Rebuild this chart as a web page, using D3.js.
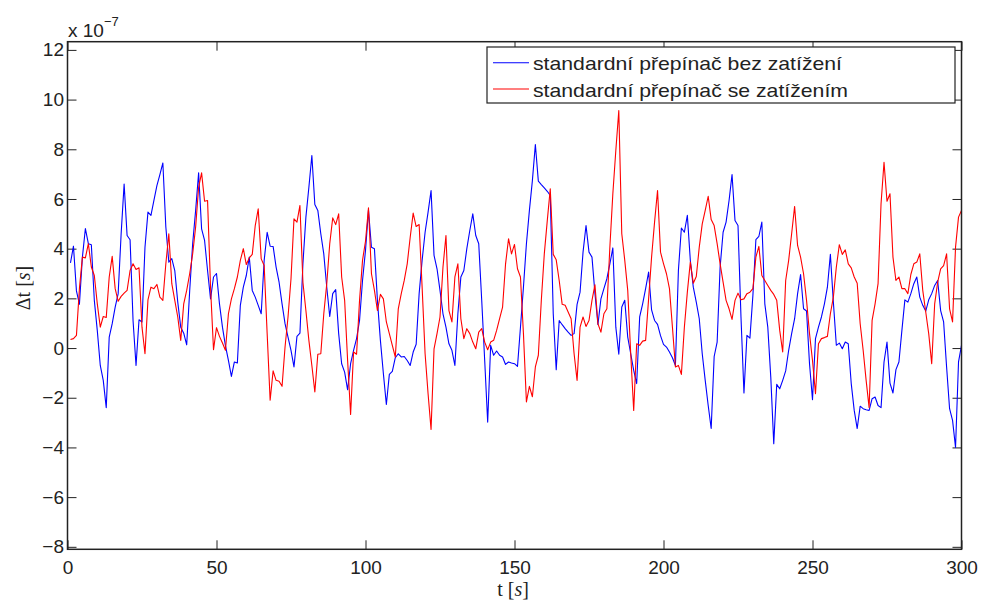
<!DOCTYPE html>
<html>
<head>
<meta charset="utf-8">
<script src="https://cdn.jsdelivr.net/npm/d3@7"></script>
<style>
  body { margin: 0; background: #fff; }
  svg { display: block; font-family: "Liberation Sans", Arial, sans-serif; }
  .axis text { font-size: 19px; fill: #222; }
  .axis line { stroke: #222; }
</style>
</head>
<body>
<div class="content"></div>
<script>
// Data (values in units of 1e-7 s)
const seriesNames = [
  "standardní přepínač bez zatížení",
  "standardní přepínač se zatížením",
];
const time = d3.range(1, 301);

const blueValues = [
  3.43, 4.1, 2.3, 1.76, 3.66, 4.81, 4.2, 4.16, 1.92, 0.7,
  -0.7, -1.3, -2.4, 0.44, 0.98, 1.65, 2.19, 4.6, 6.6, 4.53,
  4.36, 1.1, -0.7, 1.14, 1.05, 4.06, 5.47, 5.34, 5.94, 6.54,
  6.98, 7.45, 4.87, 3.46, 3.6, 3.12, 1.85, 0.84, 0.6, 0.13,
  2.3, 4.2, 5.54, 7.05, 4.8, 4.33, 3.12, 1.98, 2.86, 3.0,
  1.78, 0.84, 0.1, -0.5, -1.14, -0.56, -0.6, 1.72, 2.45, 2.92,
  3.66, 2.32, 2.05, 1.72, 1.38, 3.53, 4.66, 4.1, 4.09, 3.26,
  2.65, 1.78, 0.98, 0.44, -0.09, -0.76, 0.47, 0.6, 3.39, 5.27,
  6.47, 7.75, 5.78, 5.54, 4.6, 3.79, 2.45, 1.27, 2.19, 2.35,
  0.58, -0.63, -0.97, -1.68, -0.63, -0.09, 0.38, 1.11, 2.72, 3.93,
  5.55, 4.06, 4.0, 1.92, 0.31, -1.03, -2.27, -1.06, -0.94, -0.39,
  -0.23, -0.36, -0.34, -0.5, -0.7, -0.16, 0.15, 2.19, 3.53, 4.66,
  5.47, 6.34, 3.73, 3.19, 2.32, 1.38, 0.84, 0.17, -0.09, -0.7,
  1.38, 2.86, 3.12, 4.0, 4.73, 5.4, 4.53, 4.2, 1.92, -0.5,
  -2.98, 0.11, -0.29, -0.12, -0.29, -0.36, -0.66, -0.56, -0.6, -0.63,
  -0.74, 0.84, 2.45, 4.2, 5.54, 6.74, 8.19, 6.72, 6.58, 6.45,
  6.31, 6.14, 1.38, -0.87, 1.11, 0.94, 0.78, 0.64, 0.51, 0.58,
  1.76, 2.25, 3.86, 4.93, 3.86, 3.66, 2.19, 0.95, 1.98, 2.39,
  2.79, 3.39, 4.03, 0.84, -0.25, 1.65, 1.92, 0.44, -0.23, -0.9,
  -1.43, 1.25, 1.78, 2.39, 3.06, 1.54, 1.11, 0.95, 0.5, 0.15,
  0.04, -0.16, -0.39, -0.7, 3.12, 4.83, 4.66, 5.34, 3.53, 2.45,
  1.85, 1.18, -0.23, -1.3, -2.31, -3.24, -0.34, 0.24, 3.26, 4.66,
  5.07, 5.94, 6.98, 5.13, 4.93, 1.25, -1.81, 0.51, 0.4, 2.12,
  4.36, 4.49, 5.07, 1.78, 0.84, -1.17, -3.85, -1.46, -1.64, -1.3,
  -0.92, -0.09, 0.58, 1.18, 2.19, 2.96, 1.58, 1.49, -0.63, -2.08,
  0.38, 0.84, 1.25, 1.78, 2.45, 3.77, 1.85, 0.11, 0.2, -0.03,
  0.24, 0.17, -1.43, -2.51, -3.24, -2.34, -2.44, -2.48, -2.51, -2.04,
  -1.97, -2.31, -2.4, -0.56, 0.24, -1.41, -1.81, -0.87, -0.56, 0.71,
  1.94, 1.85, 2.19, 2.59, 2.86, 2.05, 1.72, 1.49, 1.94, 2.19,
  2.52, 2.72, 1.51, 1.05, -0.76, -2.44, -2.91, -4.0, -0.56, 0.11,
];

const redValues = [
  0.34, 0.38, 0.51, 2.4, 3.66, 3.63, 4.2, 3.26, 2.92, 1.78,
  0.84, 1.27, 1.23, 2.86, 3.69, 2.39, 1.88, 2.08, 2.21, 2.32,
  3.12, 3.39, 3.16, 3.23, 0.84, -0.23, 1.94, 2.45, 2.39, 2.56,
  2.05, 1.92, 3.39, 4.6, 2.59, 1.92, 1.25, 0.31, 1.78, 2.32,
  2.99, 3.79, 4.87, 6.47, 7.05, 5.91, 5.94, 2.45, -0.07, 0.82,
  0.47, 0.2, -0.09, 1.38, 1.98, 2.39, 2.86, 3.53, 4.0, 3.36,
  3.63, 3.77, 4.93, 5.6, 3.59, 3.32, 0.58, -2.1, -0.92, -1.3,
  -1.34, -1.54, 0.04, 1.25, 2.79, 5.2, 5.07, 5.74, 2.65, 1.51,
  0.31, -0.7, -1.77, -0.25, -0.23, 1.38, 2.59, 4.2, 5.24, 4.97,
  5.4, 2.86, 1.92, -0.5, -2.67, -0.16, -0.25, 1.92, 3.53, 4.3,
  5.64, 2.99, 2.32, 1.51, 2.16, 1.98, 1.05, 0.58, 0.11, -0.36,
  1.58, 2.19, 2.72, 3.39, 4.46, 5.43, 4.89, 4.97, 2.45, -0.23,
  -1.84, -3.28, -0.03, 0.58, 1.25, 3.26, 4.53, 1.51, 1.05, 2.86,
  3.39, 1.18, 0.38, 0.78, 0.58, 0.24, -0.03, 0.64, 0.78, 0.24,
  -0.07, 0.24, 0.31, 0.71, 1.18, 1.65, 3.39, 4.4, 3.79, 4.17,
  3.19, 2.86, 0.58, -2.17, -1.54, -1.96, -0.76, -0.29, 1.92, 3.79,
  5.13, 6.41, 3.77, 3.55, 2.72, 1.76, 1.72, 1.45, 1.18, -0.23,
  -1.3, 0.84, 1.25, 0.87, 1.11, 1.92, 2.55, 0.98, 0.64, 1.38,
  1.58, 4.06, 6.21, 7.95, 9.56, 4.6, 3.53, 2.32, -0.23, -2.51,
  0.17, 0.11, 0.28, 0.31, 1.98, 3.66, 5.07, 6.34, 3.86, 3.4,
  2.99, 2.39, 0.84, -0.76, -0.7, -1.06, 0.84, 2.25, 3.46, 2.61,
  2.88, 4.06, 5.0, 5.54, 6.11, 5.17, 4.93, 4.2, 3.39, 2.65,
  1.92, 1.58, 1.15, 1.92, 2.21, 1.94, 1.98, 2.19, 2.25, 2.39,
  3.66, 4.09, 2.92, 2.72, 2.52, 2.32, 2.16, 1.92, 0.71, -0.16,
  2.72, 3.53, 4.6, 5.7, 4.13, 3.66, 2.99, 1.92, 0.58, -0.5,
  -1.84, 0.17, 0.38, 0.42, 0.47, 1.38, 2.05, 3.26, 4.16, 3.77,
  3.95, 3.39, 3.23, 2.86, 2.61, 0.98, -0.09, -1.3, -2.4, 1.11,
  1.78, 2.59, 5.81, 7.48, 5.91, 6.21, 3.66, 2.72, 2.86, 2.39,
  2.39, 2.19, 2.96, 3.39, 3.46, 3.79, 2.32, 1.45, 0.58, -0.63,
  1.78, 2.65, 3.19, 3.32, 3.79, 1.58, 1.05, 4.06, 5.27, 5.54,
];

const xTicks = [0, 50, 100, 150, 200, 250, 300];
const yTicks = [-8, -6, -4, -2, 0, 2, 4, 6, 8, 10, 12];
const colors = ["#0000ff", "#ff0000"];

// Dimensions
const W = 982;
const H = 601;
const plot = { left: 67.5, right: 961.5, top: 41.7, bottom: 549.3 };
const tick = 9;

const svg = d3
  .select(".content")
  .append("svg")
  .attr("width", W)
  .attr("height", H);

svg.append("rect").attr("width", W).attr("height", H).attr("fill", "#fff");

// Scales
const xScale = d3.scaleLinear().domain([0, 300]).range([plot.left, plot.right]);
const yScale = d3
  .scaleLinear()
  .domain([-8.1, 12.33])
  .range([plot.bottom, plot.top]);

// Axes (MATLAB style, ticks inside on all sides)
const fmt = (d) => (d < 0 ? "\u2212" + Math.abs(d) : String(d));

svg
  .append("g")
  .attr("class", "axis")
  .attr("transform", `translate(0, ${plot.bottom})`)
  .call(
    d3.axisBottom(xScale).tickValues(xTicks).tickFormat(fmt)
      .tickSizeInner(-tick).tickSizeOuter(0).tickPadding(11)
  )
  .call((g) => g.select(".domain").remove());

svg
  .append("g")
  .attr("class", "axis")
  .attr("transform", `translate(0, ${plot.top})`)
  .call(
    d3.axisTop(xScale).tickValues(xTicks).tickFormat("")
      .tickSizeInner(-tick).tickSizeOuter(0)
  )
  .call((g) => g.select(".domain").remove());

svg
  .append("g")
  .attr("class", "axis")
  .attr("transform", `translate(${plot.left}, 0)`)
  .call(
    d3.axisLeft(yScale).tickValues(yTicks).tickFormat(fmt)
      .tickSizeInner(-tick).tickSizeOuter(0).tickPadding(3.5)
  )
  .call((g) => g.select(".domain").remove());

svg
  .append("g")
  .attr("class", "axis")
  .attr("transform", `translate(${plot.right}, 0)`)
  .call(
    d3.axisRight(yScale).tickValues(yTicks).tickFormat("")
      .tickSizeInner(-tick).tickSizeOuter(0)
  )
  .call((g) => g.select(".domain").remove());

// Lines
const line = d3
  .line()
  .x((d) => xScale(d.t))
  .y((d) => yScale(d.v));

[blueValues, redValues].forEach((vals, i) => {
  const pts = time.map((t, j) => ({ t, v: vals[j] }));
  svg
    .append("path")
    .datum(pts)
    .attr("fill", "none")
    .attr("stroke", colors[i])
    .attr("stroke-width", 1.1)
    .attr("stroke-linejoin", "round")
    .attr("d", line);
});

// Frame
svg
  .append("rect")
  .attr("x", plot.left)
  .attr("y", plot.top)
  .attr("width", plot.right - plot.left)
  .attr("height", plot.bottom - plot.top)
  .attr("fill", "none")
  .attr("stroke", "#222")
  .attr("stroke-width", 1.5);

// Exponent label
const expo = svg
  .append("text")
  .attr("x", 68)
  .attr("y", 36.5)
  .attr("font-size", 19)
  .attr("fill", "#222");
expo.append("tspan").text("x 10");
expo
  .append("tspan")
  .attr("font-size", 13)
  .attr("dy", -11)
  .text("\u22127");

// Axis labels (TeX-like: serif brackets, italic s)
const serif = "'Liberation Serif', 'DejaVu Serif', serif";

const xLabel = svg
  .append("text")
  .attr("x", 513)
  .attr("y", 596)
  .attr("text-anchor", "middle")
  .attr("font-size", 20)
  .attr("fill", "#222");
xLabel.append("tspan").attr("font-family", serif).text("t [");
xLabel
  .append("tspan")
  .attr("font-family", serif)
  .attr("font-style", "italic")
  .text("s");
xLabel.append("tspan").attr("font-family", serif).text("]");

const yLabel = svg
  .append("text")
  .attr("transform", "translate(30, 288) rotate(-90)")
  .attr("text-anchor", "middle")
  .attr("font-size", 20)
  .attr("fill", "#222");
yLabel.append("tspan").attr("font-family", serif).text("\u0394t [");
yLabel
  .append("tspan")
  .attr("font-family", serif)
  .attr("font-style", "italic")
  .text("s");
yLabel.append("tspan").attr("font-family", serif).text("]");

// Legend
const legend = svg.append("g").attr("transform", "translate(487, 47)");

legend
  .append("rect")
  .attr("width", 468)
  .attr("height", 56)
  .attr("fill", "#fff")
  .attr("stroke", "#222")
  .attr("stroke-width", 1.2);

const legendRows = [15.7, 42];
const legendWidths = [309, 315];

legend
  .selectAll("line.key")
  .data(seriesNames)
  .join("line")
  .attr("class", "key")
  .attr("x1", 6)
  .attr("x2", 42)
  .attr("y1", (d, i) => legendRows[i])
  .attr("y2", (d, i) => legendRows[i])
  .attr("stroke", (d, i) => colors[i])
  .attr("stroke-width", 1.1);

legend
  .selectAll("text")
  .data(seriesNames)
  .join("text")
  .attr("x", 46)
  .attr("y", (d, i) => legendRows[i] + 7.5)
  .attr("font-size", 19)
  .attr("fill", "#222")
  .attr("textLength", (d, i) => legendWidths[i])
  .attr("lengthAdjust", "spacingAndGlyphs")
  .text((d) => d);
</script>
</body>
</html>
